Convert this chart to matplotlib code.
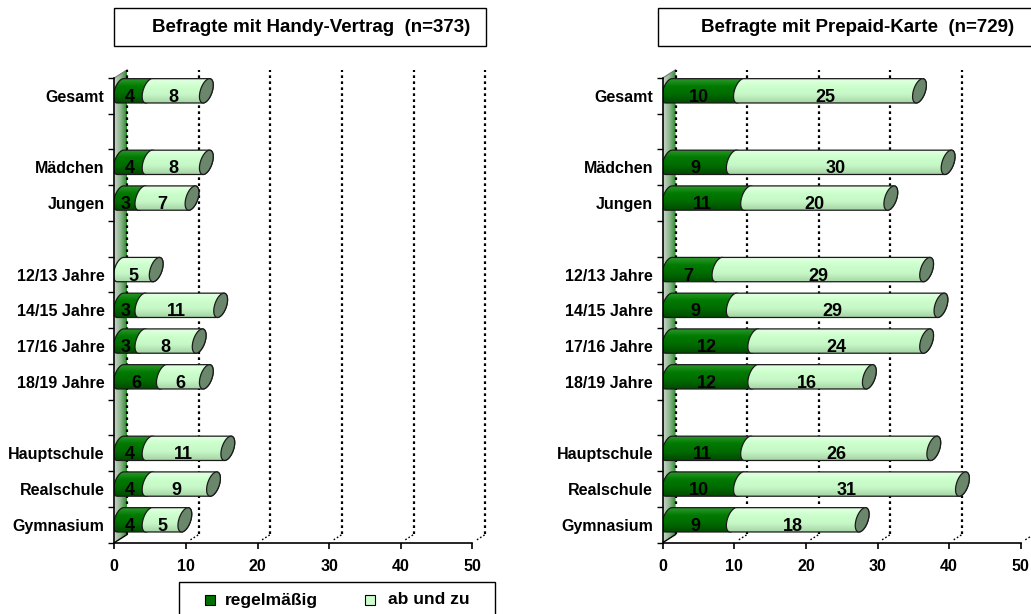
import numpy as np
import matplotlib
matplotlib.use('Agg')
from matplotlib import pyplot as plt
from matplotlib.patches import Polygon, Rectangle
from matplotlib.colors import LinearSegmentedColormap

plt.rcParams['font.family'] = ['Liberation Sans', 'DejaVu Sans']
plt.rcParams['font.weight'] = 'bold'

# data (top to bottom, None = empty row)
categories = ['Gesamt', '', 'Mädchen', 'Jungen', '', '12/13 Jahre', '14/15 Jahre',
              '17/16 Jahre', '18/19 Jahre', '', 'Hauptschule', 'Realschule', 'Gymnasium']
vertrag_regel = [4, None, 4, 3, None, 0, 3, 3, 6, None, 4, 4, 4]
vertrag_abzu = [8, None, 8, 7, None, 5, 11, 8, 6, None, 11, 9, 5]
prepaid_regel = [10, None, 9, 11, None, 7, 9, 12, 12, None, 11, 10, 9]
prepaid_abzu = [25, None, 30, 20, None, 29, 29, 24, 16, None, 26, 31, 18]
x_ticks = [0, 10, 20, 30, 40, 50]
series_names = ['regelmäßig', 'ab und zu']

dark_cmap = LinearSegmentedColormap.from_list('dk', ['#004c00', '#006a00', '#007a00', '#2f9a2f'])
light_cmap = LinearSegmentedColormap.from_list('lt', ['#a6d4a6', '#c6f6c6', '#ccffcc', '#e6ffe6'])
wall_cmap = LinearSegmentedColormap.from_list('wl', ['#c8d4c8', '#8fb88f', '#2e8b2e'])
cap_color = '#6b876b'

DEP = 1.8      # depth shift in x (data units)
DEPY = 0.23    # depth shift in y (slots)
K = 0.45       # shear of the cylinder ends
A = 0.85
C = 0.85       # offset of end-ellipse centre
B = 0.34
YOFF = 0.14


def ell(c, yc, t):
    return np.column_stack([c + A * np.cos(t) + K * np.sin(t), yc + B * np.sin(t)])


def cyl(s, e, yc):
    t1 = np.linspace(np.pi / 2, 3 * np.pi / 2, 40)
    t2 = np.linspace(-np.pi / 2, np.pi / 2, 40)
    return np.vstack([ell(s + C, yc, t1), ell(e + C, yc, t2)])


def segment(ax, s, e, yc, cmap, z):
    poly = Polygon(cyl(s, e, yc), closed=True, fc='none', ec='none', zorder=z)
    ax.add_patch(poly)
    grad = np.linspace(0, 1, 60).reshape(-1, 1)
    im = ax.imshow(grad, extent=[s - 0.5, e + 2.5, yc - B, yc + B], origin='lower',
                   cmap=cmap, aspect='auto', zorder=z, interpolation='bilinear')
    im.set_clip_path(poly)
    ax.add_patch(Polygon(cyl(s, e, yc), closed=True, fill=False, ec='#1a1a1a', lw=0.9, zorder=z + 0.1))


def panel(ax, regel, abzu):
    n = len(categories)
    ys = [n - 1 - i for i in range(n)]
    # back wall
    wall = Polygon([(0, -0.5), (DEP, -0.5 + DEPY), (DEP, n - 0.5 + DEPY), (0, n - 0.5)],
                   closed=True, fc='none', ec='none', zorder=1)
    ax.add_patch(wall)
    im = ax.imshow(np.linspace(0, 1, 40).reshape(1, -1), extent=[0, DEP, -0.5, n - 0.5 + DEPY],
                   cmap=wall_cmap, aspect='auto', zorder=1)
    im.set_clip_path(wall)
    ax.plot([0, DEP], [n - 0.5, n - 0.5 + DEPY], color='#777777', lw=0.8, zorder=1.2)
    ax.plot([0, DEP], [-0.5, -0.5 + DEPY], color='black', lw=1.0, zorder=1.2)
    # grid lines on back wall
    for xt in x_ticks:
        ax.plot([xt + DEP, xt + DEP], [-0.5 + DEPY, n - 0.5 + DEPY], color='black',
                lw=1.6, ls=(0, (1.2, 1.5)), zorder=2, clip_on=False)
        if xt > 0:
            ax.plot([xt + DEP * 0.35, xt + DEP], [-0.5 + DEPY * 0.35, -0.5 + DEPY], color='black',
                    lw=1.0, ls=(0, (1.2, 1.5)), zorder=2, clip_on=False)
    # bars
    for y, r, a in zip(ys, regel, abzu):
        if r is None:
            continue
        yc = y + YOFF
        total = r + a
        if r > 0:
            segment(ax, 0, r, yc, dark_cmap, 3)
            ax.text(r / 2 + 0.1, y - 0.04, str(r), ha='center', va='center', fontsize=13,
                    fontweight='bold', color='black', zorder=6)
        segment(ax, r, total, yc, light_cmap, 4)
        t = np.linspace(0, 2 * np.pi, 60)
        ax.add_patch(Polygon(ell(total + C, yc, t), closed=True, fc=cap_color,
                             ec='#1a1a1a', lw=0.9, zorder=5))
        ax.text(r + a / 2 + 0.2, y - 0.04, str(a), ha='center', va='center', fontsize=13,
                fontweight='bold', color='black', zorder=6)

    ax.set_xlim(0, 52)
    ax.set_ylim(-0.5, n - 0.5 + DEPY + 0.02)
    for sp in ['top', 'right']:
        ax.spines[sp].set_visible(False)
    ax.spines['left'].set_bounds(-0.5, n - 0.5)
    ax.spines['bottom'].set_bounds(0, 50)
    ax.spines['left'].set_linewidth(1.2)
    ax.spines['bottom'].set_linewidth(1.2)
    ax.spines['left'].set_zorder(7)
    ax.set_xticks(x_ticks)
    ax.set_xticklabels([str(v) for v in x_ticks], fontsize=11.5, fontweight='bold')
    ax.tick_params(axis='x', length=4, width=1.2, pad=8)
    lab_y = [y for y, c in zip(ys, categories) if c]
    ax.set_yticks(lab_y)
    ax.set_yticklabels([c for c in categories if c], fontsize=11.5, fontweight='bold')
    ax.set_yticks(np.arange(-0.5, n, 1.0), minor=True)
    ax.tick_params(axis='y', which='major', length=0, pad=7)
    ax.tick_params(axis='y', which='minor', length=4.3, width=1.0)


fig = plt.figure(figsize=(10.31, 6.14), dpi=100)
W, H = 1031.0, 614.0
ax_w = 52 * 7.162 / W
ax_h = (13.0 + DEPY + 0.02) * 35.75 / H
ax_b = 1 - 542.7 / H

ax1 = fig.add_axes([114.3 / W, ax_b, ax_w, ax_h])
panel(ax1, vertrag_regel, vertrag_abzu)
ax2 = fig.add_axes([662.7 / W, ax_b, ax_w, ax_h])
panel(ax2, prepaid_regel, prepaid_abzu)

# title boxes
fig.add_artist(Rectangle((114 / W, 1 - 46 / H), (486 - 114) / W, 38 / H, transform=fig.transFigure,
                         fc='white', ec='black', lw=1.0))
fig.text(311.5 / W, 1 - 27.5 / H, 'Befragte mit Handy-Vertrag  (n=373)', ha='center', va='center',
         fontsize=13.5, fontweight='bold')
fig.add_artist(Rectangle((658 / W, 1 - 46 / H), (1040 - 658) / W, 38 / H, transform=fig.transFigure,
                         fc='white', ec='black', lw=1.0))
fig.text(858 / W, 1 - 27.5 / H, 'Befragte mit Prepaid-Karte  (n=729)', ha='center', va='center',
         fontsize=13.5, fontweight='bold')

# legend
fig.add_artist(Rectangle((179 / W, -0.02), (495 - 179) / W, (614 - 582) / H + 0.02,
                         transform=fig.transFigure, fc='white', ec='black', lw=1.0))
fig.add_artist(Rectangle((205 / W, 1 - 605 / H), 10 / W, 10 / H, transform=fig.transFigure,
                         fc='#007000', ec='black', lw=0.8))
fig.text(225 / W, 1 - 600 / H, series_names[0], ha='left', va='center', fontsize=12.5, fontweight='bold')
fig.add_artist(Rectangle((365 / W, 1 - 605 / H), 10 / W, 10 / H, transform=fig.transFigure,
                         fc='#ccffcc', ec='black', lw=0.8))
fig.text(388 / W, 1 - 600 / H, series_names[1], ha='left', va='center', fontsize=12.5, fontweight='bold')

fig.savefig('out.png', dpi=100)
plt.close('all')
